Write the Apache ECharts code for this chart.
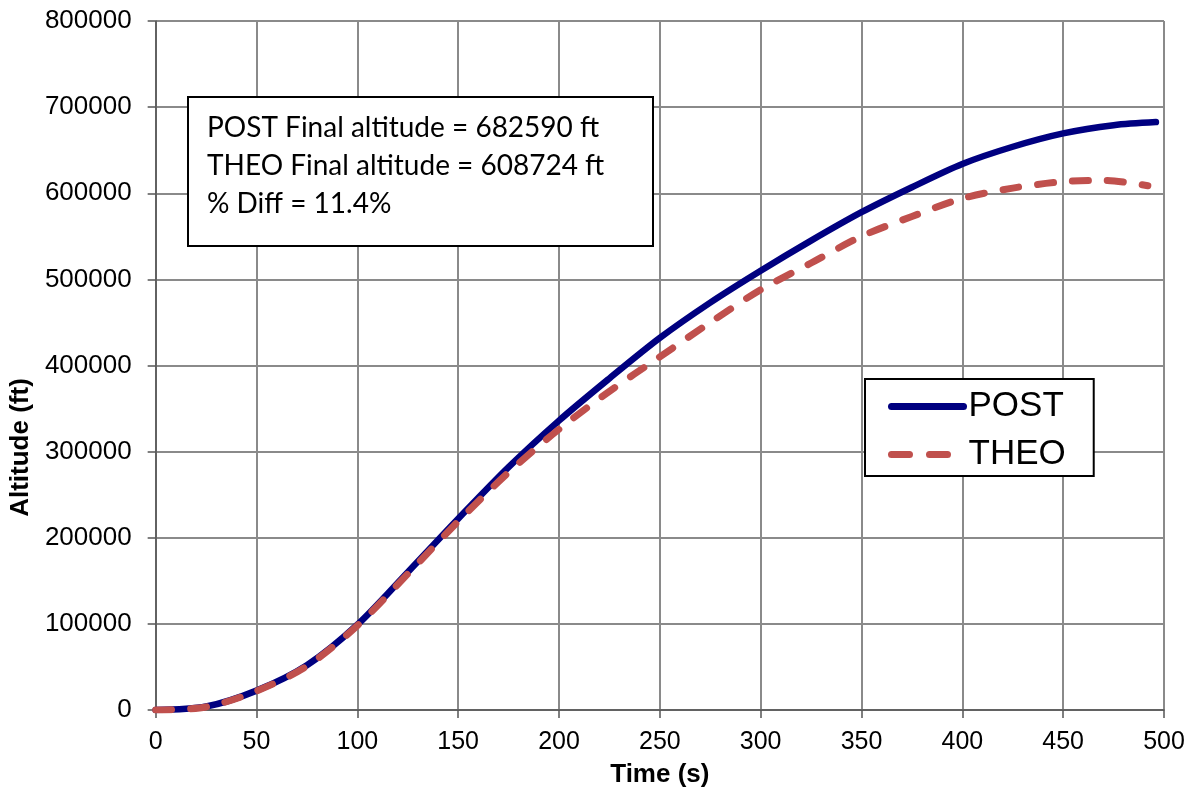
<!DOCTYPE html>
<html>
<head>
<meta charset="utf-8">
<script src="https://cdn.jsdelivr.net/npm/echarts@6/dist/echarts.min.js"></script>
<style>
  html, body { margin: 0; padding: 0; background: #fff; }
  #chart { width: 1195px; height: 801px; }
</style>
</head>
<body>
<div id="chart"></div>
<script>
// ---- Data ----
const postTime = [0, 25, 50, 75, 100, 125, 150, 175, 200, 225, 250, 275, 300, 325, 350, 375, 400, 425, 450, 475, 496];
const postAlt  = [0, 4000, 22500, 52000, 99000, 160000, 222000, 282000, 336000, 385000, 432000, 473000, 510000, 545000, 578000, 607000, 634000, 654000, 669500, 679000, 682590];
const theoTime = [0, 25, 50, 75, 100, 125, 150, 175, 200, 225, 250, 275, 300, 325, 350, 375, 400, 425, 450, 470, 492];
const theoAlt  = [0, 3500, 22000, 51000, 98000, 158000, 219000, 276000, 326000, 370000, 410000, 450000, 488000, 519000, 550000, 573000, 594000, 606000, 613500, 615000, 608724];
const seriesNames = ['POST', 'THEO'];
const noteLines = ['POST Final altitude = 682590 ft', 'THEO Final altitude = 608724 ft', '% Diff = 11.4%'];
const xTitle = 'Time (s)';
const yTitle = 'Altitude (ft)';

const pair = (xs, ys) => xs.map((x, i) => [x, ys[i]]);

const chart = echarts.init(document.getElementById('chart'), null, { renderer: 'canvas' });
const axisFont = "'Liberation Sans', Arial, sans-serif";
const noteFont = "Lato, sans-serif";

const option = {
  animation: false,
  backgroundColor: '#fff',
  grid: { left: 153, right: 31, top: 21, bottom: 91, containLabel: false },
  xAxis: {
    type: 'value', min: 0, max: 500, interval: 50,
    name: xTitle, nameLocation: 'middle', nameGap: 52,
    nameTextStyle: { fontFamily: axisFont, fontSize: 26, fontWeight: 'bold', color: '#000' },
    axisLine: { show: true, lineStyle: { color: '#555', width: 1.5 } },
    axisTick: { show: true, inside: false, length: 8, lineStyle: { color: '#555', width: 1.5 } },
    axisLabel: { fontFamily: axisFont, fontSize: 25, color: '#000', margin: 20 },
    splitLine: { show: true, lineStyle: { color: '#8a8a8a', width: 2 } }
  },
  yAxis: {
    type: 'value', min: 0, max: 800000, interval: 100000,
    name: yTitle, nameLocation: 'middle', nameGap: 117, nameRotate: 90,
    nameTextStyle: { fontFamily: axisFont, fontSize: 26, fontWeight: 'bold', color: '#000', padding: [0, 164, 0, 0] },
    axisLine: { show: true, lineStyle: { color: '#555', width: 1.5 } },
    axisTick: { show: true, inside: false, length: 8, lineStyle: { color: '#555', width: 1.5 } },
    axisLabel: { fontFamily: axisFont, fontSize: 26, color: '#000', margin: 24, formatter: v => String(v) },
    splitLine: { show: true, lineStyle: { color: '#8a8a8a', width: 2 } }
  },
  legend: {
    orient: 'vertical', left: 865, top: 379,
    data: seriesNames,
    itemWidth: 72, itemHeight: 10, itemGap: 13,
    padding: [10, 28, 4, 23],
    backgroundColor: '#fff', borderColor: '#000', borderWidth: 2,
    itemStyle: { opacity: 0 },
    lineStyle: { width: 7, cap: 'round' },
    textStyle: { fontFamily: axisFont, fontSize: 35, color: '#000' }
  },
  series: [
    {
      name: seriesNames[0], type: 'line', data: pair(postTime, postAlt),
      smooth: 0.3, symbol: 'none', showSymbol: false,
      lineStyle: { color: '#000080', width: 6.5, cap: 'round', join: 'round' },
      itemStyle: { color: '#000080' }, z: 3
    },
    {
      name: seriesNames[1], type: 'line', data: pair(theoTime, theoAlt),
      smooth: 0.3, symbol: 'none', showSymbol: false,
      lineStyle: { color: '#C0504D', width: 7, type: [16, 19], cap: 'round', join: 'round' },
      itemStyle: { color: '#C0504D' }, z: 4
    }
  ],
  graphic: [
    { type: 'rect', z: 100, shape: { x: 188, y: 97, width: 465, height: 149 },
      style: { fill: '#fff', stroke: '#000', lineWidth: 2 } },
    { type: 'text', z: 101, x: 207, y: 128,
      style: { text: noteLines[0], fontFamily: noteFont, fontSize: 28, fill: '#000', verticalAlign: 'middle' } },
    { type: 'text', z: 101, x: 207, y: 166,
      style: { text: noteLines[1], fontFamily: noteFont, fontSize: 28, fill: '#000', verticalAlign: 'middle' } },
    { type: 'text', z: 101, x: 207, y: 204,
      style: { text: noteLines[2], fontFamily: noteFont, fontSize: 28, fill: '#000', verticalAlign: 'middle' } }
  ]
};
chart.setOption(option);
// Legend dash pattern: two dashes in the swatch, as in the reference
chart.setOption({ legend: { data: [
  { name: seriesNames[0] },
  { name: seriesNames[1], lineStyle: { type: [18, 20], width: 7, cap: 'round' } }
] } });
</script>
</body>
</html>
